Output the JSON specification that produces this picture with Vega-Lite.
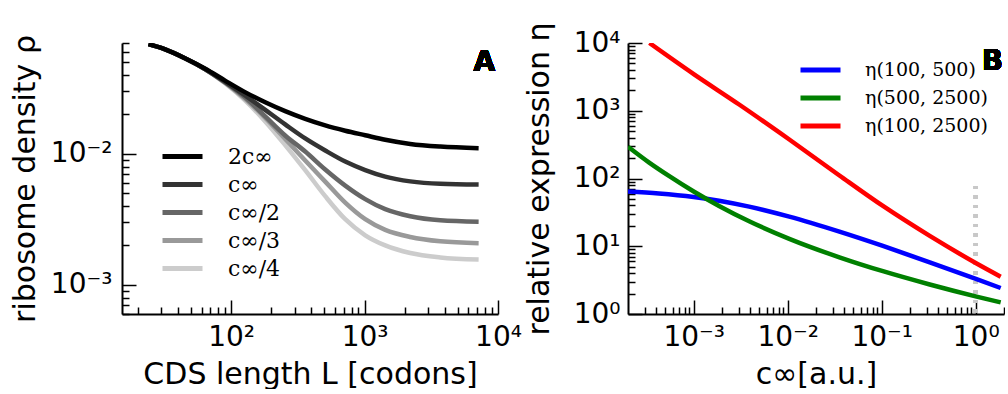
{
  "$schema": "https://vega.github.io/schema/vega-lite/v6.json",
  "padding": {"left": 10, "top": 21, "right": 0, "bottom": 0},
  "background": "white",
  "config": {
    "font": "DejaVu Sans",
    "view": {"stroke": null},
    "axis": {
      "domainColor": "black", "domainWidth": 2, "tickColor": "black", "tickWidth": 1.5,
      "labelFont": "DejaVu Sans", "labelFontSize": 28, "labelColor": "black",
      "titleFont": "DejaVu Sans", "titleFontSize": 30, "titleFontWeight": "normal", "titleColor": "black",
      "grid": false, "labelFlush": false, "labelOverlap": false, "labelBound": false
    },
    "legend": {
      "orient": "none", "symbolType": "stroke", "symbolSize": 1600, "symbolStrokeWidth": 5,
      "rowPadding": 0, "labelFont": "DejaVu Serif", "labelColor": "black",
      "labelLimit": 400, "padding": 0, "title": null
    }
  },
  "spacing": 130,
  "bounds": "flush",
  "resolve": {"scale": {"color": "independent"}, "legend": {"color": "independent"}},
  "hconcat": [
    {
      "width": 376, "height": 271,
      "data": {"values": [
        {"s": "c∞/4", "L": 24, "rho": 0.0686}, {"s": "c∞/4", "L": 32, "rho": 0.06258}, {"s": "c∞/4", "L": 45, "rho": 0.05358}, {"s": "c∞/4", "L": 64, "rho": 0.04416},
        {"s": "c∞/4", "L": 90, "rho": 0.0345}, {"s": "c∞/4", "L": 127, "rho": 0.02557}, {"s": "c∞/4", "L": 180, "rho": 0.01766}, {"s": "c∞/4", "L": 254, "rho": 0.01166},
        {"s": "c∞/4", "L": 359, "rho": 0.0075}, {"s": "c∞/4", "L": 507, "rho": 0.00475}, {"s": "c∞/4", "L": 716, "rho": 0.00317}, {"s": "c∞/4", "L": 1011, "rho": 0.00239},
        {"s": "c∞/4", "L": 1428, "rho": 0.002}, {"s": "c∞/4", "L": 2200, "rho": 0.00175}, {"s": "c∞/4", "L": 3694, "rho": 0.00162}, {"s": "c∞/4", "L": 7158, "rho": 0.00156},
        {"s": "c∞/3", "L": 24, "rho": 0.0686}, {"s": "c∞/3", "L": 32, "rho": 0.06258}, {"s": "c∞/3", "L": 45, "rho": 0.05358}, {"s": "c∞/3", "L": 64, "rho": 0.04416},
        {"s": "c∞/3", "L": 90, "rho": 0.0348}, {"s": "c∞/3", "L": 127, "rho": 0.02626}, {"s": "c∞/3", "L": 180, "rho": 0.01878}, {"s": "c∞/3", "L": 254, "rho": 0.01298},
        {"s": "c∞/3", "L": 359, "rho": 0.00889}, {"s": "c∞/3", "L": 507, "rho": 0.00614}, {"s": "c∞/3", "L": 716, "rho": 0.00424}, {"s": "c∞/3", "L": 1011, "rho": 0.00317},
        {"s": "c∞/3", "L": 1428, "rho": 0.00263}, {"s": "c∞/3", "L": 2200, "rho": 0.00232}, {"s": "c∞/3", "L": 3694, "rho": 0.00215}, {"s": "c∞/3", "L": 7158, "rho": 0.00208},
        {"s": "c∞/2", "L": 24, "rho": 0.0686}, {"s": "c∞/2", "L": 32, "rho": 0.06258}, {"s": "c∞/2", "L": 45, "rho": 0.05358}, {"s": "c∞/2", "L": 64, "rho": 0.04416},
        {"s": "c∞/2", "L": 90, "rho": 0.03511}, {"s": "c∞/2", "L": 127, "rho": 0.02696}, {"s": "c∞/2", "L": 180, "rho": 0.01929}, {"s": "c∞/2", "L": 254, "rho": 0.0138},
        {"s": "c∞/2", "L": 359, "rho": 0.01041}, {"s": "c∞/2", "L": 507, "rho": 0.00759}, {"s": "c∞/2", "L": 716, "rho": 0.00572}, {"s": "c∞/2", "L": 1011, "rho": 0.00451},
        {"s": "c∞/2", "L": 1428, "rho": 0.00378}, {"s": "c∞/2", "L": 2200, "rho": 0.00334}, {"s": "c∞/2", "L": 3694, "rho": 0.00311}, {"s": "c∞/2", "L": 7158, "rho": 0.00303},
        {"s": "c∞", "L": 24, "rho": 0.0686}, {"s": "c∞", "L": 32, "rho": 0.06258}, {"s": "c∞", "L": 45, "rho": 0.05358}, {"s": "c∞", "L": 64, "rho": 0.04416},
        {"s": "c∞", "L": 90, "rho": 0.03542}, {"s": "c∞", "L": 127, "rho": 0.02793}, {"s": "c∞", "L": 180, "rho": 0.02163}, {"s": "c∞", "L": 254, "rho": 0.01676},
        {"s": "c∞", "L": 359, "rho": 0.0131}, {"s": "c∞", "L": 507, "rho": 0.0106}, {"s": "c∞", "L": 716, "rho": 0.00873}, {"s": "c∞", "L": 1011, "rho": 0.00752},
        {"s": "c∞", "L": 1428, "rho": 0.0067}, {"s": "c∞", "L": 2200, "rho": 0.00616}, {"s": "c∞", "L": 3694, "rho": 0.0059}, {"s": "c∞", "L": 7158, "rho": 0.00582},
        {"s": "2c∞", "L": 24, "rho": 0.0686}, {"s": "2c∞", "L": 32, "rho": 0.06258}, {"s": "2c∞", "L": 45, "rho": 0.05358}, {"s": "2c∞", "L": 64, "rho": 0.04455},
        {"s": "2c∞", "L": 90, "rho": 0.03618}, {"s": "2c∞", "L": 127, "rho": 0.02954}, {"s": "2c∞", "L": 180, "rho": 0.02469}, {"s": "2c∞", "L": 254, "rho": 0.02114},
        {"s": "2c∞", "L": 359, "rho": 0.01846}, {"s": "2c∞", "L": 507, "rho": 0.01646}, {"s": "2c∞", "L": 716, "rho": 0.015}, {"s": "2c∞", "L": 1011, "rho": 0.01385},
        {"s": "2c∞", "L": 1428, "rho": 0.0128}, {"s": "2c∞", "L": 2200, "rho": 0.01189}, {"s": "2c∞", "L": 3694, "rho": 0.01135}, {"s": "2c∞", "L": 7158, "rho": 0.01104}
      ]},
      "resolve": {"axis": {"x": "independent", "y": "independent"}},
      "layer": [
        {
          "mark": {"type": "line", "strokeWidth": 4.5, "interpolate": "monotone", "clip": true},
          "encoding": {
            "x": {"field": "L", "type": "quantitative",
              "scale": {"type": "log", "domain": [15.2, 10000], "nice": false},
              "axis": {
                "orient": "bottom",
                "title": "CDS length L [codons]",
                "values": [100, 1000, 10000],
                "tickSize": -14,
                "labelExpr": "'10' + ['⁰','¹','²','³','⁴','⁵'][round(log(datum.value)/LN10)]",
                "labelPadding": 23, "titlePadding": 8
              }},
            "y": {"field": "rho", "type": "quantitative",
              "scale": {"type": "log", "domain": [0.0006, 0.07], "nice": false},
              "axis": {
                "orient": "left",
                "title": "ribosome density ρ",
                "values": [0.001, 0.01],
                "tickSize": -14,
                "labelExpr": "'10⁻' + ['⁰','¹','²','³','⁴','⁵'][abs(round(log(datum.value)/LN10))]",
                "labelPadding": 24, "titlePadding": 10
              }},
            "color": {"field": "s", "type": "nominal",
              "scale": {"domain": ["2c∞", "c∞", "c∞/2", "c∞/3", "c∞/4"], "range": ["#000000", "#333333", "#666666", "#999999", "#cccccc"]},
              "legend": {"legendX": 38, "legendY": 100, "clipHeight": 27.2, "labelOffset": 23, "labelFontSize": 22}}
          }
        },
        {
          "mark": {"type": "text", "text": "A", "font": "DejaVu Sans", "fontWeight": "bold", "fontSize": 28, "align": "center", "baseline": "alphabetic", "color": "black"},
          "encoding": {
            "x": {"datum": 7900, "type": "quantitative",
              "axis": {"orient": "bottom", "title": null, "labels": false, "domain": false, "tickSize": -7,
                "values": [20,30,40,50,60,70,80,90,200,300,400,500,600,700,800,900,2000,3000,4000,5000,6000,7000,8000,9000]}},
            "y": {"datum": 0.0428, "type": "quantitative",
              "axis": {"orient": "left", "title": null, "labels": false, "domain": false, "tickSize": -7,
                "values": [0.0006,0.0007,0.0008,0.0009,0.002,0.003,0.004,0.005,0.006,0.007,0.008,0.009,0.02,0.03,0.04,0.05,0.06,0.07]}}
          }
        }
      ]
    },
    {
      "width": 376, "height": 271,
      "data": {"values": [
        {"s": "η(100, 500)", "c": 0.0002, "eta": 64.3}, {"s": "η(100, 500)", "c": 0.000426, "eta": 60.3}, {"s": "η(100, 500)", "c": 0.001, "eta": 53.5},
        {"s": "η(100, 500)", "c": 0.00186, "eta": 47}, {"s": "η(100, 500)", "c": 0.00389, "eta": 38.4}, {"s": "η(100, 500)", "c": 0.0104, "eta": 27.3},
        {"s": "η(100, 500)", "c": 0.0355, "eta": 16.4}, {"s": "η(100, 500)", "c": 0.103, "eta": 10.09}, {"s": "η(100, 500)", "c": 0.3245, "eta": 5.8},
        {"s": "η(100, 500)", "c": 1.022, "eta": 3.275}, {"s": "η(100, 500)", "c": 1.844, "eta": 2.42},
        {"s": "η(500, 2500)", "c": 0.0002, "eta": 294.7}, {"s": "η(500, 2500)", "c": 0.000333, "eta": 173.4}, {"s": "η(500, 2500)", "c": 0.000545, "eta": 109.3},
        {"s": "η(500, 2500)", "c": 0.001, "eta": 64.3}, {"s": "η(500, 2500)", "c": 0.00186, "eta": 39.4}, {"s": "η(500, 2500)", "c": 0.00389, "eta": 23.4},
        {"s": "η(500, 2500)", "c": 0.0104, "eta": 12.88}, {"s": "η(500, 2500)", "c": 0.0355, "eta": 6.87}, {"s": "η(500, 2500)", "c": 0.103, "eta": 4.28},
        {"s": "η(500, 2500)", "c": 0.3245, "eta": 2.725}, {"s": "η(500, 2500)", "c": 1.022, "eta": 1.806}, {"s": "η(500, 2500)", "c": 1.844, "eta": 1.483},
        {"s": "η(100, 2500)", "c": 0.000338, "eta": 10000}, {"s": "η(100, 2500)", "c": 0.001, "eta": 3475}, {"s": "η(100, 2500)", "c": 0.003044, "eta": 1237},
        {"s": "η(100, 2500)", "c": 0.0104, "eta": 376}, {"s": "η(100, 2500)", "c": 0.0355, "eta": 110.8}, {"s": "η(100, 2500)", "c": 0.103, "eta": 39.3},
        {"s": "η(100, 2500)", "c": 0.3245, "eta": 14.21}, {"s": "η(100, 2500)", "c": 1.022, "eta": 5.566}, {"s": "η(100, 2500)", "c": 1.844, "eta": 3.553}
      ]},
      "resolve": {"axis": {"x": "independent", "y": "independent"}},
      "layer": [
        {
          "mark": {"type": "rule", "color": "#c8c8c8", "strokeWidth": 4, "strokeDash": [3, 6.5]},
          "encoding": {
            "x": {"datum": 1, "type": "quantitative",
              "axis": {"orient": "bottom", "title": null, "labels": false, "domain": false, "tickSize": -7,
                "values": [0.0003,0.0004,0.0005,0.0006,0.0007,0.0008,0.0009,0.002,0.003,0.004,0.005,0.006,0.007,0.008,0.009,0.02,0.03,0.04,0.05,0.06,0.07,0.08,0.09,0.2,0.3,0.4,0.5,0.6,0.7,0.8,0.9,2]}},
            "y": {"datum": 1.05, "type": "quantitative",
              "axis": {"orient": "left", "title": null, "labels": false, "domain": false, "tickSize": -7,
                "values": [2,3,4,5,6,7,8,9,20,30,40,50,60,70,80,90,200,300,400,500,600,700,800,900,2000,3000,4000,5000,6000,7000,8000,9000]}},
            "y2": {"datum": 90}
          }
        },
        {
          "mark": {"type": "line", "strokeWidth": 4.5, "interpolate": "monotone", "clip": true},
          "encoding": {
            "x": {"field": "c", "type": "quantitative",
              "scale": {"type": "log", "domain": [0.0002, 2], "nice": false},
              "axis": {
                "orient": "bottom",
                "title": "c∞[a.u.]",
                "values": [0.001, 0.01, 0.1, 1],
                "tickSize": -14,
                "labelExpr": "'10' + (round(log(datum.value)/LN10) < 0 ? '⁻' : '') + ['⁰','¹','²','³','⁴','⁵'][abs(round(log(datum.value)/LN10))]",
                "labelPadding": 23, "titlePadding": 8
              }},
            "y": {"field": "eta", "type": "quantitative",
              "scale": {"type": "log", "domain": [1, 10000], "nice": false},
              "axis": {
                "orient": "left",
                "title": "relative expression η",
                "values": [1, 10, 100, 1000, 10000],
                "tickSize": -14,
                "labelExpr": "'10' + ['⁰','¹','²','³','⁴','⁵'][round(log(datum.value)/LN10)]",
                "labelPadding": 22, "titlePadding": 19
              }},
            "color": {"field": "s", "type": "nominal",
              "scale": {"domain": ["η(100, 500)", "η(500, 2500)", "η(100, 2500)"], "range": ["#0000ff", "#008000", "#ff0000"]},
              "legend": {"legendX": 170, "legendY": 13, "clipHeight": 27.8, "labelOffset": 22, "labelFontSize": 19}}
          }
        },
        {
          "mark": {"type": "text", "text": "B", "font": "DejaVu Sans", "fontWeight": "bold", "fontSize": 28, "align": "center", "baseline": "alphabetic", "color": "black"},
          "encoding": {"x": {"datum": 1.51, "type": "quantitative", "axis": null}, "y": {"datum": 3990, "type": "quantitative", "axis": null}}
        }
      ]
    }
  ]
}
